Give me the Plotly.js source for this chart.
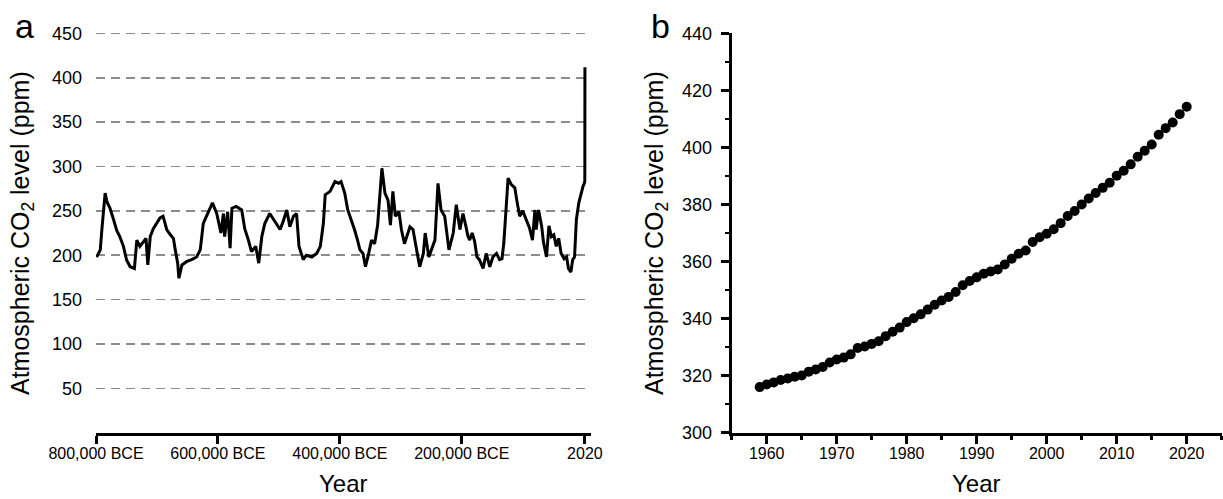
<!DOCTYPE html>
<html>
<head>
<meta charset="utf-8">
<script src="https://cdn.plot.ly/plotly-3.0.1.min.js"></script>
<style>html,body{margin:0;padding:0;background:#fff;}#chart{width:1223px;height:499px;}</style>
</head>
<body>
<div id="chart"></div>
<script>
// Panel a: ice-core CO2 record (year, negative = BCE)
const yearA = [-799000,-793000,-790000,-785000,-782000,-777000,-772000,-766000,-761000,-755000,-750000,-744000,-737000,-733000,-728000,-722000,-718000,-715000,-711000,-706000,-700000,-695000,-690000,-684000,-678000,-673000,-670000,-666000,-664000,-659000,-651000,-643000,-635000,-629000,-624000,-616000,-609000,-602000,-599000,-595000,-591000,-589000,-584000,-580000,-577000,-570000,-561000,-556000,-550000,-545000,-538000,-533000,-528000,-523000,-515000,-507000,-498000,-493000,-487000,-482000,-476000,-471000,-467000,-460000,-455000,-446000,-438000,-432000,-427000,-424000,-416000,-408000,-402000,-398000,-392000,-387000,-381000,-376000,-371000,-367000,-362000,-358000,-354000,-348000,-343000,-338000,-335000,-331000,-326000,-321000,-317000,-313000,-309000,-303000,-299000,-294000,-285000,-280000,-274000,-269000,-263000,-260000,-254000,-250000,-244000,-239000,-234000,-228000,-221000,-214000,-209000,-203000,-198000,-193000,-190000,-187000,-183000,-179000,-175000,-171000,-165000,-160000,-154000,-149000,-143000,-138000,-134000,-131000,-127000,-124000,-119000,-113000,-109000,-105000,-100000,-94000,-89000,-84000,-80000,-78000,-74000,-69000,-66000,-61000,-57000,-53000,-49000,-45000,-41000,-37000,-32000,-28000,-25000,-21000,-18000,-15000,-12000,-8000,-4000,-1000,1000,1800,1900,1950,1980,2000,2020];
const co2A = [198,206,232,270,260,253,242,228,221,210,195,187,185,217,210,215,219,189,221,230,236,242,244,229,223,219,206,191,174,189,193,195,198,206,236,249,259,247,236,225,247,221,249,208,253,255,251,230,217,204,210,191,221,236,247,238,229,238,251,232,244,247,210,195,200,198,202,210,236,268,272,283,281,283,270,251,240,229,217,206,202,187,198,217,213,234,262,298,270,262,234,272,244,249,229,213,232,229,206,187,202,225,198,206,217,281,251,244,206,225,257,229,247,232,222,217,225,216,198,195,185,202,187,198,202,195,196,214,263,287,280,276,259,244,250,240,231,217,251,229,251,233,215,198,233,221,223,210,219,202,196,198,185,181,195,198,240,259,272,278,281,283,296,311,339,369,412];
const tickValsA = [-800000,-600000,-400000,-200000,2020];
const tickTextA = ['800,000 BCE','600,000 BCE','400,000 BCE','200,000 BCE','2020'];
const gridValsA = [50,100,150,200,250,300,350,400,450];

// Panel b: annual mean CO2 (Mauna Loa)
const yearB = [1959,1960,1961,1962,1963,1964,1965,1966,1967,1968,1969,1970,1971,1972,1973,1974,1975,1976,1977,1978,1979,1980,1981,1982,1983,1984,1985,1986,1987,1988,1989,1990,1991,1992,1993,1994,1995,1996,1997,1998,1999,2000,2001,2002,2003,2004,2005,2006,2007,2008,2009,2010,2011,2012,2013,2014,2015,2016,2017,2018,2019,2020];
const co2B = [315.98,316.91,317.64,318.45,318.99,319.62,320.04,321.37,322.18,323.05,324.62,325.68,326.32,327.46,329.68,330.19,331.13,332.03,333.84,335.41,336.84,338.76,340.12,341.48,343.15,344.87,346.35,347.61,349.31,351.69,353.20,354.45,355.70,356.54,357.21,358.96,360.97,362.74,363.88,366.84,368.54,369.71,371.32,373.45,375.98,377.70,379.98,382.09,384.02,385.83,387.64,390.10,391.85,394.06,396.74,398.81,401.01,404.41,406.76,408.72,411.66,414.24];

const W = 1223, H = 499;
const FONT = 'Liberation Sans, Arial, sans-serif';
const px = v => v / W;
const py = v => 1 - v / H;

const traces = [
  {x: yearA, y: co2A, type: 'scatter', mode: 'lines', xaxis: 'x', yaxis: 'y',
   line: {color: '#000', width: 3}, hoverinfo: 'skip'},
  {x: yearB, y: co2B, type: 'scatter', mode: 'markers', xaxis: 'x2', yaxis: 'y2',
   marker: {color: '#000', size: 10, line: {width: 0}}, hoverinfo: 'skip'}
];

const layout = {
  width: W, height: H,
  margin: {l: 0, r: 0, t: 0, b: 0},
  paper_bgcolor: '#fff', plot_bgcolor: '#fff',
  showlegend: false,
  font: {family: FONT, color: '#000'},
  xaxis: {
    domain: [px(96), px(591)], range: [-800000, 12000], anchor: 'y',
    tickmode: 'array', tickvals: tickValsA, ticktext: tickTextA,
    ticks: 'outside', ticklen: 8, tickwidth: 3, tickcolor: '#000',
    showline: true, linewidth: 3, linecolor: '#000',
    showgrid: false, zeroline: false, ticklabelstandoff: -4,
    tickfont: {size: 16, family: FONT, color: '#000'}
  },
  yaxis: {
    domain: [py(432.6), py(24.6)], range: [0, 460], anchor: 'x',
    tickmode: 'array', tickvals: gridValsA,
    ticks: '', showline: false, zeroline: false,
    showgrid: true, gridcolor: '#8c8c8c', gridwidth: 1.5, griddash: '9px,6px',
    ticklabelstandoff: 13,
    tickfont: {size: 18, family: FONT, color: '#000'}
  },
  xaxis2: {
    domain: [px(731.7), px(1221.7)], range: [1955, 2025], anchor: 'y2',
    tick0: 1960, dtick: 10,
    ticks: 'outside', ticklen: 8, tickwidth: 2.5, tickcolor: '#000',
    minor: {ticks: 'outside', ticklen: 4, tickwidth: 2.5, tickcolor: '#000', tick0: 1955, dtick: 5, showgrid: false},
    showline: true, linewidth: 3, linecolor: '#000',
    showgrid: false, zeroline: false, ticklabelstandoff: -4,
    tickfont: {size: 16, family: FONT, color: '#000'}
  },
  yaxis2: {
    domain: [py(432.7), py(33.3)], range: [300, 440], anchor: 'x2',
    tick0: 300, dtick: 20,
    ticks: 'outside', ticklen: 8, tickwidth: 2.5, tickcolor: '#000',
    minor: {ticks: 'outside', ticklen: 4, tickwidth: 2.5, tickcolor: '#000', tick0: 300, dtick: 10, showgrid: false},
    showline: true, linewidth: 3, linecolor: '#000',
    showgrid: false, zeroline: false, ticklabelstandoff: 5,
    tickfont: {size: 18, family: FONT, color: '#000'}
  },
  annotations: [
    {text: 'a', xref: 'paper', yref: 'paper', x: px(24), y: py(26), xanchor: 'center', yanchor: 'middle', showarrow: false, font: {size: 34, family: FONT, color: '#000'}},
    {text: 'b', xref: 'paper', yref: 'paper', x: px(660), y: py(26), xanchor: 'center', yanchor: 'middle', showarrow: false, font: {size: 34, family: FONT, color: '#000'}},
    {text: 'Atmospheric CO<sub>2</sub> level (ppm)', xref: 'paper', yref: 'paper', x: px(22), y: py(233), xanchor: 'center', yanchor: 'middle', textangle: -90, showarrow: false, font: {size: 25, family: FONT, color: '#000'}},
    {text: 'Atmospheric CO<sub>2</sub> level (ppm)', xref: 'paper', yref: 'paper', x: px(656), y: py(233), xanchor: 'center', yanchor: 'middle', textangle: -90, showarrow: false, font: {size: 25, family: FONT, color: '#000'}},
    {text: 'Year', xref: 'paper', yref: 'paper', x: px(343), y: py(483), xanchor: 'center', yanchor: 'middle', showarrow: false, font: {size: 24, family: FONT, color: '#000'}},
    {text: 'Year', xref: 'paper', yref: 'paper', x: px(976), y: py(483), xanchor: 'center', yanchor: 'middle', showarrow: false, font: {size: 24, family: FONT, color: '#000'}}
  ]
};

Plotly.newPlot('chart', traces, layout, {staticPlot: true, displayModeBar: false});
</script>
</body>
</html>
